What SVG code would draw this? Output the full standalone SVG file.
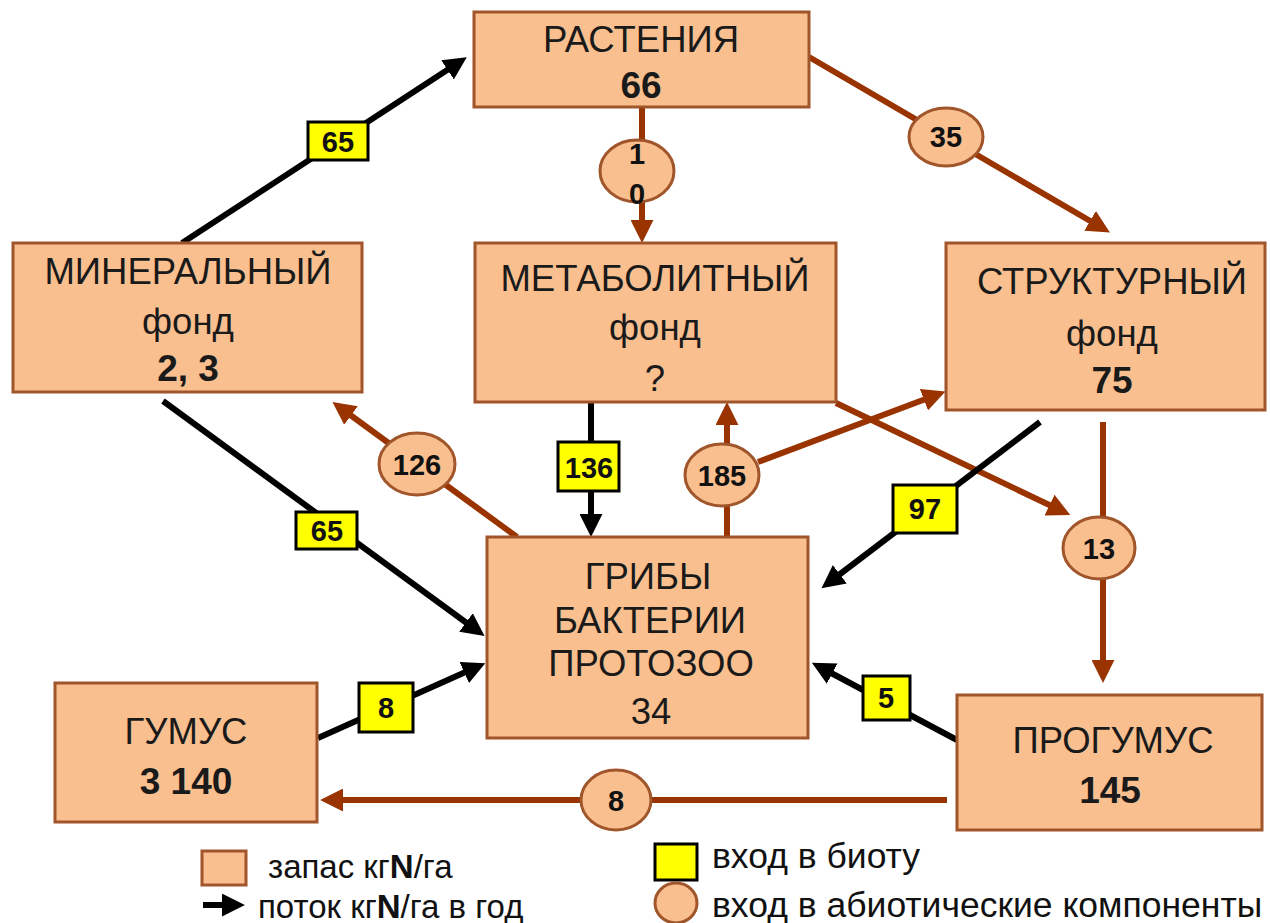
<svg xmlns="http://www.w3.org/2000/svg" width="1270" height="923" viewBox="0 0 1270 923">
<style>
.box{fill:#F9BF8F;stroke:#A0552A;stroke-width:3}
.ell{fill:#F9BF8F;stroke:#A0552A;stroke-width:3}
.yb{fill:#FFFF00;stroke:#000;stroke-width:3}
.lbl{font-family:"Liberation Sans",Arial,sans-serif;font-size:36.5px;fill:#1a1a1a;text-anchor:middle}
.num{font-family:"Liberation Sans",Arial,sans-serif;font-size:37px;font-weight:bold;fill:#1a1a1a;text-anchor:middle}
.sm{font-family:"Liberation Sans",Arial,sans-serif;font-size:29px;font-weight:bold;fill:#111;text-anchor:middle}
.leg{font-family:"Liberation Sans",Arial,sans-serif;font-size:33px;fill:#111}
.leg2{font-family:"Liberation Sans",Arial,sans-serif;font-size:35.5px;fill:#111}
.bk{stroke:#000;stroke-width:6;fill:none}
.br{stroke:#993300;stroke-width:6;fill:none}
</style>
<defs>
<marker id="ab" viewBox="0 0 10 10" refX="7" refY="5" markerWidth="23" markerHeight="23" markerUnits="userSpaceOnUse" orient="auto"><path d="M0,0 L10,5 L0,10 z" fill="#000"/></marker>
<marker id="ar" viewBox="0 0 10 10" refX="7" refY="5" markerWidth="23" markerHeight="23" markerUnits="userSpaceOnUse" orient="auto"><path d="M0,0 L10,5 L0,10 z" fill="#993300"/></marker>
</defs>
<rect width="1270" height="923" fill="#fff"/>
<g id="connectors">
<line class="bk" x1="182" y1="243" x2="461" y2="61" marker-end="url(#ab)"/>
<line class="br" x1="809" y1="57" x2="1104" y2="229" marker-end="url(#ar)"/>
<line class="br" x1="642" y1="107" x2="642" y2="236" marker-end="url(#ar)"/>
<line class="bk" x1="163" y1="401" x2="479" y2="632" marker-end="url(#ab)"/>
<line class="br" x1="517" y1="537" x2="338" y2="406" marker-end="url(#ar)"/>
<line class="bk" x1="591" y1="402" x2="591" y2="530" marker-end="url(#ab)"/>
<line class="br" x1="727" y1="537" x2="727" y2="409" marker-end="url(#ar)"/>
<line class="br" x1="758" y1="462" x2="939" y2="394" marker-end="url(#ar)"/>
<line class="br" x1="836" y1="403" x2="1064" y2="512" marker-end="url(#ar)"/>
<line class="br" x1="1103" y1="422" x2="1103" y2="676" marker-end="url(#ar)"/>
<line class="bk" x1="1040" y1="422" x2="827" y2="584" marker-end="url(#ab)"/>
<line class="bk" x1="957" y1="740" x2="818" y2="666" marker-end="url(#ab)"/>
<line class="bk" x1="318" y1="738" x2="479" y2="666" marker-end="url(#ab)"/>
<line class="br" x1="947" y1="800" x2="327" y2="800" marker-end="url(#ar)"/>
</g>
<g id="flow-labels">
<rect class="yb" x="308" y="122" width="60" height="38"/><text class="sm" x="338" y="152">65</text>
<ellipse class="ell" cx="946" cy="137" rx="37" ry="29"/><text class="sm" x="946" y="147">35</text>
<ellipse class="ell" cx="637" cy="171" rx="37" ry="31"/><text class="sm" x="637" y="164">1</text><text class="sm" x="637" y="204">0</text>
<rect class="yb" x="296" y="512" width="61" height="37"/><text class="sm" x="327" y="541">65</text>
<ellipse class="ell" cx="417" cy="464" rx="38" ry="31"/><text class="sm" x="417" y="475">126</text>
<rect class="yb" x="558" y="442" width="61" height="49"/><text class="sm" x="589" y="478">136</text>
<ellipse class="ell" cx="722" cy="475" rx="37" ry="31"/><text class="sm" x="722" y="486">185</text>
<rect class="yb" x="893" y="485" width="64" height="48"/><text class="sm" x="925" y="519">97</text>
<ellipse class="ell" cx="1099" cy="548" rx="36" ry="31"/><text class="sm" x="1099" y="559">13</text>
<rect class="yb" x="863" y="676" width="47" height="44"/><text class="sm" x="886" y="708">5</text>
<rect class="yb" x="359" y="683" width="54" height="49"/><text class="sm" x="386" y="718">8</text>
<ellipse class="ell" cx="616" cy="800" rx="35" ry="30"/><text class="sm" x="616" y="811">8</text>
</g>
<g id="rastenia"><rect class="box" x="474" y="12" width="335" height="95"/><text class="lbl" x="641" y="52">РАСТЕНИЯ</text><text class="num" x="641" y="98">66</text></g>
<g id="mineral"><rect class="box" x="13" y="243" width="349" height="149"/><text class="lbl" x="188" y="284">МИНЕРАЛЬНЫЙ</text><text class="lbl" x="188" y="334">фонд</text><text class="num" x="188" y="381">2, 3</text></g>
<g id="metabolit"><rect class="box" x="475" y="243" width="361" height="159"/><text class="lbl" x="655" y="291">МЕТАБОЛИТНЫЙ</text><text class="lbl" x="655" y="340">фонд</text><text class="lbl" x="655" y="391">?</text></g>
<g id="struktur"><rect class="box" x="946" y="243" width="319" height="167"/><text class="lbl" x="1112" y="294">СТРУКТУРНЫЙ</text><text class="lbl" x="1112" y="346">фонд</text><text class="num" x="1112" y="393">75</text></g>
<g id="griby"><rect class="box" x="487" y="537" width="321" height="201"/><text class="lbl" x="648" y="589">ГРИБЫ</text><text class="lbl" x="650" y="633">БАКТЕРИИ</text><text class="lbl" x="651" y="676">ПРОТОЗОО</text><text class="lbl" x="651" y="724">34</text></g>
<g id="gumus"><rect class="box" x="55" y="683" width="262" height="139"/><text class="lbl" x="186" y="744">ГУМУС</text><text class="num" x="186" y="794">3 140</text></g>
<g id="progumus"><rect class="box" x="957" y="695" width="305" height="135"/><text class="lbl" x="1113" y="753">ПРОГУМУС</text><text class="num" x="1110" y="803">145</text></g>
<g id="legend">
<rect class="box" x="202" y="851" width="44" height="34"/>
<text class="leg" x="268" y="878">запас кг<tspan font-weight="bold">N</tspan>/га</text>
<line class="bk" x1="203" y1="905" x2="238" y2="905" marker-end="url(#ab)"/>
<text class="leg" x="258" y="918">поток кг<tspan font-weight="bold">N</tspan>/га в год</text>
<rect class="yb" x="655" y="844" width="42" height="36"/>
<text class="leg2" x="712" y="868">вход в биоту</text>
<ellipse class="ell" cx="676" cy="903" rx="21" ry="20"/>
<text class="leg2" x="712" y="917">вход в абиотические компоненты</text>
</g>
</svg>
